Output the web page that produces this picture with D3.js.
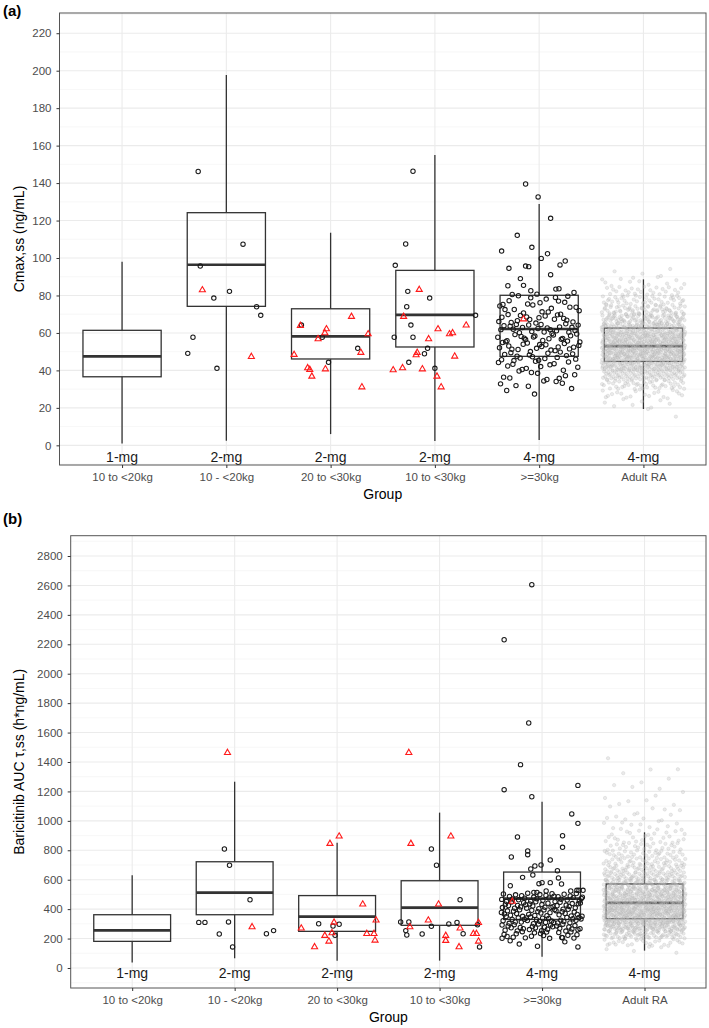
<!DOCTYPE html>
<html>
<head>
<meta charset="utf-8">
<script src="https://cdn.jsdelivr.net/npm/d3@7"></script>
<style>
  body { margin: 0; background: #fff; }
  svg { display: block; font-family: "Liberation Sans", Arial, Helvetica, sans-serif; }
</style>
</head>
<body>
<svg id="chart" width="709" height="1028"></svg>
<script>
const GROUPS = ["10 to <20kg", "10 - <20kg", "20 to <30kg", "10 to <30kg", ">=30kg", "Adult RA"];
const DOSES = ["1-mg", "2-mg", "2-mg", "2-mg", "4-mg", "4-mg"];

// [lower whisker, Q1, median, Q3, upper whisker]
const CMAX_BOXES = [
    [1, 36.6, 47.5, 61.4, 98],
    [2.5, 74.2, 96.4, 124.2, 197.7],
    [6, 46.1, 58.2, 72.9, 113.5],
    [2.3, 52.5, 69.6, 93.4, 155],
    [2.8, 47.5, 62.1, 80.1, 128.8],
    [19.4, 44.8, 53, 62.6, 88.6]
];
const AUC_BOXES = [
    [38, 181, 256, 362, 630],
    [66, 362, 512, 722, 1266],
    [50, 249, 349, 492, 852],
    [50, 290, 410, 593, 1056],
    [77, 330, 471, 652, 1130],
    [118, 335, 442, 571, 922]
];

// observed points: [group index, jitter (in group widths), value]
const CMAX_CIRCLES = [
    [1, -0.27, 146.2], [1, 0.16, 107.4], [1, -0.25, 95.7], [1, 0.03, 82.2], [1, -0.12, 78.6],
    [1, 0.29, 74], [1, 0.33, 69.4], [1, -0.32, 57.7], [1, -0.37, 49.1], [1, -0.09, 41.1],
    [2, -0.28, 64.2], [2, -0.08, 57.7], [2, 0.26, 51.8], [2, -0.02, 44.3],
    [3, -0.21, 146.3], [3, -0.28, 107.5], [3, -0.38, 96.1], [3, -0.26, 82.2], [3, -0.05, 78.6],
    [3, -0.27, 74], [3, 0.39, 69.4], [3, -0.23, 64.2], [3, -0.39, 57.7], [3, -0.21, 57.7],
    [3, -0.07, 51.8], [3, -0.1, 48.9], [3, -0.25, 44.3], [3, 0, 41.1],
    [4, -0.13, 139.5], [4, -0.01, 132.6], [4, 0.11, 121.2], [4, -0.21, 112.1], [4, -0.36, 103.7],
    [4, -0.07, 105.7], [4, 0.08, 102.3], [4, 0.02, 99.8], [4, 0.25, 98.4], [4, 0.2, 96.3],
    [4, -0.29, 94.5], [4, -0.13, 95.7], [4, -0.1, 95.4], [4, 0.11, 91.1], [4, -0.18, 89],
    [4, -0.3, 85.2], [4, -0.15, 85.4], [4, -0.08, 82.5], [4, 0.16, 83.4], [4, 0.19, 83.6]
];
const CMAX_TRIANGLES = [
    [1, -0.23, 82.9], [1, 0.24, 47.3],
    [2, -0.29, 63.9], [2, 0.2, 68.7], [2, -0.04, 62.1], [2, -0.055, 60], [2, -0.12, 56.8],
    [2, 0.36, 59.4], [2, -0.35, 48.4], [2, 0.29, 49.5], [2, -0.22, 41.3], [2, -0.2, 40.4],
    [2, -0.05, 40.7], [2, -0.18, 36.8], [2, 0.3, 31.1],
    [3, -0.15, 83.1], [3, -0.3, 68.7], [3, 0.03, 62.1], [3, 0.3, 64.1], [3, 0.14, 59.4],
    [3, 0.17, 60], [3, -0.06, 56.8], [3, 0.19, 47.5], [3, -0.17, 49.5], [3, -0.18, 48.2],
    [3, -0.4, 40.2], [3, -0.31, 41.3], [3, -0.12, 40.7], [3, 0.02, 36.8], [3, 0.06, 31.1],
    [4, -0.15, 67.4]
];
const AUC_CIRCLES = [
    [1, -0.1, 809], [1, -0.05, 698], [1, 0.15, 464], [1, -0.35, 310], [1, -0.29, 310],
    [1, -0.06, 313], [1, -0.15, 231], [1, -0.02, 143], [1, 0.31, 233], [1, 0.38, 254],
    [2, -0.18, 301], [2, 0.02, 297], [2, -0.04, 285], [2, -0.02, 222],
    [3, -0.08, 809], [3, -0.03, 698], [3, 0.2, 464], [3, -0.38, 313], [3, -0.3, 313],
    [3, -0.33, 254], [3, -0.32, 224], [3, -0.17, 231], [3, -0.08, 283], [3, 0.09, 299],
    [3, 0.17, 310], [3, 0.23, 233], [3, 0.37, 294], [3, 0.39, 143],
    [4, -0.1, 2605], [4, -0.37, 2231], [4, -0.13, 1665], [4, -0.21, 1382], [4, -0.37, 1212],
    [4, -0.1, 1164], [4, 0.35, 1241], [4, 0.29, 1047], [4, 0.35, 983], [4, -0.24, 890],
    [4, 0.2, 899], [4, 0.2, 820], [4, -0.14, 795], [4, -0.14, 770], [4, -0.3, 754],
    [4, 0.08, 734], [4, -0.01, 700], [4, -0.07, 693], [4, -0.11, 673], [4, 0.15, 661],
    [4, -0.19, 616], [4, -0.09, 632], [4, 0.16, 612], [4, 0.19, 571], [4, -0.31, 559],
    [4, -0.03, 573], [4, 0, 580], [4, 0.08, 580], [4, -0.08, 514], [4, -0.05, 514],
    [4, 0.04, 523], [4, 0.34, 528], [4, 0.36, 528], [4, 0.4, 528], [4, 0.28, 523],
    [4, -0.39, 202], [4, 0.35, 143], [4, 0.2, 206]
];
const AUC_TRIANGLES = [
    [1, -0.07, 1463], [1, 0.17, 279],
    [2, -0.07, 845], [2, 0.02, 895], [2, 0.25, 433], [2, 0.38, 324], [2, -0.35, 270],
    [2, -0.03, 310], [2, -0.05, 238], [2, -0.12, 220], [2, -0.08, 181], [2, -0.22, 143],
    [2, 0.29, 233], [2, 0.36, 233], [2, 0.37, 188],
    [3, -0.3, 1463], [3, -0.28, 845], [3, 0.11, 895], [3, -0.01, 433], [3, -0.11, 324],
    [3, -0.29, 279], [3, 0.06, 220], [3, 0.06, 186], [3, 0.19, 143], [3, 0.2, 270],
    [3, 0.33, 233], [3, 0.36, 233], [3, 0.38, 181], [3, 0.38, 308],
    [4, -0.29, 452]
];

// dense clouds, estimated as [from, to, number of points]
const CMAX_30KG_BINS = [[27, 30, 2], [30, 35, 7], [35, 40, 9], [40, 45, 12], [45, 50, 16], [50, 55, 19],
    [55, 60, 19], [60, 65, 21], [65, 70, 16], [70, 75, 12], [75, 82, 14]];
const CMAX_ADULT_BINS = [[15, 20, 2], [20, 25, 8], [25, 30, 20], [30, 35, 45], [35, 40, 80], [40, 45, 120],
    [45, 50, 150], [50, 55, 155], [55, 60, 140], [60, 65, 115], [65, 70, 85], [70, 75, 60],
    [75, 80, 40], [80, 85, 25], [85, 90, 12], [90, 95, 4]];
const AUC_30KG_BINS = [[140, 200, 4], [200, 250, 18], [250, 300, 26], [300, 350, 28], [350, 400, 26],
    [400, 450, 28], [450, 510, 30]];
const AUC_ADULT_BINS = [[100, 150, 5], [150, 200, 25], [200, 250, 60], [250, 300, 95], [300, 350, 120],
    [350, 400, 130], [400, 450, 120], [450, 500, 105], [500, 550, 95], [550, 600, 75], [600, 650, 56],
    [650, 700, 45], [700, 750, 35], [750, 800, 30], [800, 850, 22], [850, 900, 16], [900, 950, 12],
    [950, 1000, 9], [1000, 1050, 7], [1050, 1100, 5], [1100, 1150, 4], [1150, 1200, 3], [1200, 1250, 3],
    [1250, 1300, 2], [1300, 1350, 2], [1350, 1400, 1], [1400, 1450, 1]];

const CMAX_TICKS = d3.range(0, 221, 20);
const AUC_TICKS = d3.range(0, 2801, 200);

// Halton sequence element, used to lay points of a bin over the jitter width
const halton = (i, base) => {
    let f = 1, r = 0;
    while (i > 0) {
        f /= base;
        r += f * (i % base);
        i = Math.floor(i / base);
    }
    return r;
};

const spreadBins = (bins, group, start) => {
    const pts = [];
    let k = start;
    bins.forEach(([lo, hi, n]) => {
        for (let i = 0; i < n; i++, k++) {
            const u = halton(k, 2);
            const v = halton(k, 3);
            pts.push([group, (v * 2 - 1) * 0.4, lo + u * (hi - lo)]);
        }
    });
    return pts;
};

const svg = d3.select("#chart");

const drawPanel = cfg => {
    const x = d3.scalePoint().domain(GROUPS).range([cfg.left, cfg.right]).padding(0.6);
    const step = x.step();
    const y = d3.scaleLinear().domain(cfg.domain).range([cfg.bottom, cfg.top]);
    const g = svg.append("g");
    const px = d => x(GROUPS[d[0]]) + d[1] * step;

    const minor = d3.range(cfg.domain[0] - cfg.domain[0] % cfg.minorStep, cfg.domain[1], cfg.minorStep)
        .filter(v => !cfg.ticks.includes(v) && v > cfg.domain[0]);

    g.selectAll(".minor").data(minor).join("line")
        .attr("x1", cfg.left).attr("x2", cfg.right)
        .attr("y1", y).attr("y2", y)
        .attr("stroke", "#f2f2f2").attr("stroke-width", 0.6);
    g.selectAll(".major").data(cfg.ticks).join("line")
        .attr("x1", cfg.left).attr("x2", cfg.right)
        .attr("y1", y).attr("y2", y)
        .attr("stroke", "#ebebeb").attr("stroke-width", 1.1);
    g.selectAll(".vgrid").data(GROUPS).join("line")
        .attr("x1", x).attr("x2", x)
        .attr("y1", cfg.top).attr("y2", cfg.bottom)
        .attr("stroke", "#ebebeb").attr("stroke-width", 1.1);

    // boxes
    const bw = step * 0.75;
    const box = g.selectAll(".box").data(cfg.boxes).join("g")
        .attr("transform", (d, i) => `translate(${x(GROUPS[i])},0)`)
        .attr("stroke", "#333").attr("fill", "none");
    box.append("line").attr("y1", d => y(d[0])).attr("y2", d => y(d[1])).attr("stroke-width", 1.3);
    box.append("line").attr("y1", d => y(d[3])).attr("y2", d => y(d[4])).attr("stroke-width", 1.3);
    box.append("rect")
        .attr("x", -bw / 2).attr("width", bw)
        .attr("y", d => y(d[3])).attr("height", d => y(d[1]) - y(d[3]))
        .attr("stroke-width", 1.3);
    box.append("line").attr("x1", -bw / 2).attr("x2", bw / 2)
        .attr("y1", d => y(d[2])).attr("y2", d => y(d[2])).attr("stroke-width", 2.7);

    // dose labels inside the panel
    g.selectAll(".dose").data(DOSES).join("text")
        .attr("x", (d, i) => x(GROUPS[i]))
        .attr("y", y(cfg.doseAt))
        .attr("text-anchor", "middle").attr("dominant-baseline", "central")
        .attr("font-size", 14).attr("fill", "#1a1a1a")
        .text(d => d);

    // adult cloud
    g.selectAll(".adult").data(spreadBins(cfg.adultBins, 5, 7)).join("circle")
        .attr("cx", px).attr("cy", d => y(d[2])).attr("r", 1.7)
        .attr("fill", "#c4c4c4").attr("fill-opacity", 0.35)
        .attr("stroke", "#b0b0b0").attr("stroke-opacity", 0.45).attr("stroke-width", 0.5);

    const circles = cfg.circles.concat(spreadBins(cfg.denseBins, 4, 3));
    g.selectAll(".obs").data(circles).join("circle")
        .attr("cx", px).attr("cy", d => y(d[2])).attr("r", 2.2)
        .attr("fill", "none").attr("stroke", "#1a1a1a").attr("stroke-width", 1.05);

    const tri = d3.symbol().type(d3.symbolTriangle).size(16);
    g.selectAll(".tri").data(cfg.triangles).join("path")
        .attr("d", tri)
        .attr("transform", d => `translate(${px(d)},${y(d[2])})`)
        .attr("fill", "none").attr("stroke", "#ff1a1a").attr("stroke-width", 1.1);

    // border
    g.append("rect")
        .attr("x", cfg.left).attr("y", cfg.top)
        .attr("width", cfg.right - cfg.left).attr("height", cfg.bottom - cfg.top)
        .attr("fill", "none").attr("stroke", "#555").attr("stroke-width", 1);

    const yAxis = g.append("g")
        .attr("transform", `translate(${cfg.left},0)`)
        .call(d3.axisLeft(y).tickValues(cfg.ticks).tickFormat(d3.format("d")).tickSize(3).tickPadding(5));
    const xAxis = g.append("g")
        .attr("transform", `translate(0,${cfg.bottom})`)
        .call(d3.axisBottom(x).tickSize(3).tickPadding(5));
    [yAxis, xAxis].forEach(a => {
        a.select(".domain").remove();
        a.selectAll(".tick line").attr("stroke", "#333");
        a.selectAll(".tick text").attr("fill", "#4d4d4d").attr("font-size", 11.5)
            .attr("font-family", "Liberation Sans, Arial, sans-serif");
    });

    g.append("text")
        .attr("x", (cfg.left + cfg.right) / 2).attr("y", cfg.bottom + 33.5)
        .attr("text-anchor", "middle").attr("font-size", 14).text("Group");
    g.append("text")
        .attr("transform", `translate(24,${(cfg.top + cfg.bottom) / 2}) rotate(-90)`)
        .attr("text-anchor", "middle").attr("font-size", 14).text(cfg.title);
    g.append("text")
        .attr("x", 3).attr("y", cfg.tagY)
        .attr("font-size", 15).attr("font-weight", "bold").text(cfg.tag);
};

drawPanel({
    top: 13, bottom: 465, left: 59.5, right: 706,
    domain: [-10.5, 230.8], ticks: CMAX_TICKS, minorStep: 10,
    boxes: CMAX_BOXES, circles: CMAX_CIRCLES, triangles: CMAX_TRIANGLES,
    denseBins: CMAX_30KG_BINS, adultBins: CMAX_ADULT_BINS,
    doseAt: -6, title: "Cmax,ss (ng/mL)", tag: "(a)", tagY: 16
});
drawPanel({
    top: 535.7, bottom: 988, left: 70.7, right: 706,
    domain: [-136, 2938], ticks: AUC_TICKS, minorStep: 100,
    boxes: AUC_BOXES, circles: AUC_CIRCLES, triangles: AUC_TRIANGLES,
    denseBins: AUC_30KG_BINS, adultBins: AUC_ADULT_BINS,
    doseAt: -37, title: "Baricitinib AUC τ,ss (h*ng/mL)", tag: "(b)", tagY: 524
});
</script>
</body>
</html>
